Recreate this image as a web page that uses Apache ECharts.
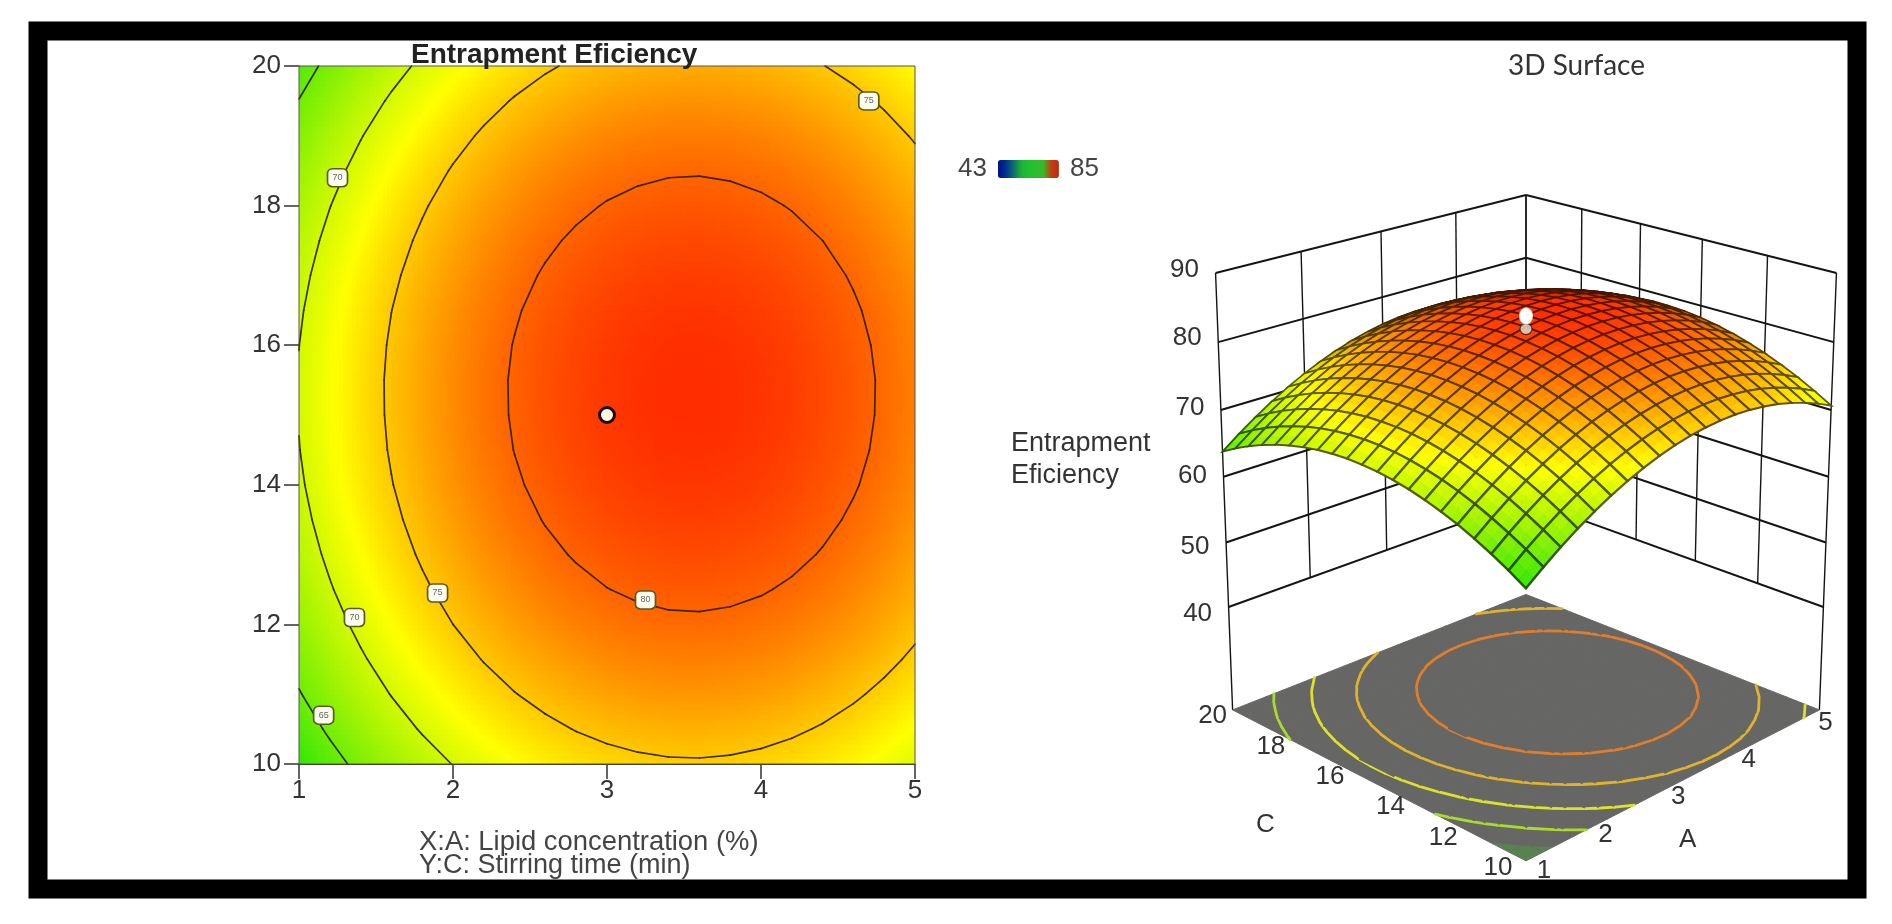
<!DOCTYPE html>
<html><head><meta charset="utf-8">
<style>html,body{margin:0;padding:0;background:#fff}#chart{width:1892px;height:924px;filter:blur(0.75px)}</style>
<script src="https://cdn.jsdelivr.net/npm/echarts@6/dist/echarts.min.js"></script>
</head><body><div id="chart"></div>
<script>
// A: lipid concentration (%), C: stirring time (min)
const lipidConcentration = [1,1.2,1.4,1.6,1.8,2,2.2,2.4,2.6,2.8,3,3.2,3.4,3.6,3.8,4,4.2,4.4,4.6,4.8,5];
const stirringTime = [10,10.5,11,11.5,12,12.5,13,13.5,14,14.5,15,15.5,16,16.5,17,17.5,18,18.5,19,19.5,20];
// Entrapment efficiency; one row per stirring time
const efficiency = [
[62.07,63.98,65.74,67.34,68.78,70.07,71.20,72.17,72.99,73.65,74.16,74.51,74.71,74.75,74.63,74.36,73.93,73.34,72.60,71.70,70.65],
[63.52,65.43,67.19,68.79,70.23,71.52,72.65,73.62,74.44,75.10,75.61,75.96,76.16,76.20,76.08,75.81,75.38,74.79,74.05,73.15,72.10],
[64.82,66.73,68.49,70.09,71.53,72.82,73.95,74.92,75.74,76.40,76.91,77.26,77.46,77.50,77.38,77.11,76.68,76.09,75.35,74.45,73.40],
[65.98,67.89,69.65,71.25,72.69,73.98,75.11,76.08,76.90,77.56,78.07,78.42,78.62,78.66,78.54,78.27,77.84,77.25,76.51,75.61,74.56],
[67.00,68.91,70.67,72.27,73.71,75.00,76.13,77.10,77.92,78.58,79.09,79.44,79.64,79.68,79.56,79.29,78.86,78.27,77.53,76.63,75.58],
[67.87,69.78,71.54,73.14,74.58,75.87,77.00,77.97,78.79,79.45,79.96,80.31,80.51,80.55,80.43,80.16,79.73,79.14,78.40,77.50,76.45],
[68.60,70.51,72.27,73.87,75.31,76.60,77.73,78.70,79.52,80.18,80.69,81.04,81.24,81.28,81.16,80.89,80.46,79.87,79.13,78.23,77.18],
[69.19,71.10,72.86,74.46,75.90,77.19,78.32,79.29,80.11,80.77,81.28,81.63,81.83,81.87,81.75,81.48,81.05,80.46,79.72,78.82,77.77],
[69.64,71.55,73.31,74.91,76.35,77.64,78.77,79.74,80.56,81.22,81.73,82.08,82.28,82.32,82.20,81.93,81.50,80.91,80.17,79.27,78.22],
[69.94,71.85,73.61,75.21,76.65,77.94,79.07,80.04,80.86,81.52,82.03,82.38,82.58,82.62,82.50,82.23,81.80,81.21,80.47,79.57,78.52],
[70.09,72.00,73.76,75.36,76.80,78.09,79.22,80.19,81.01,81.67,82.18,82.53,82.73,82.77,82.65,82.38,81.95,81.36,80.62,79.72,78.67],
[70.11,72.02,73.78,75.38,76.82,78.11,79.24,80.21,81.03,81.69,82.20,82.55,82.75,82.79,82.67,82.40,81.97,81.38,80.64,79.74,78.69],
[69.98,71.89,73.65,75.25,76.69,77.98,79.11,80.08,80.90,81.56,82.07,82.42,82.62,82.66,82.54,82.27,81.84,81.25,80.51,79.61,78.56],
[69.71,71.62,73.38,74.98,76.42,77.71,78.84,79.81,80.63,81.29,81.80,82.15,82.35,82.39,82.27,82.00,81.57,80.98,80.24,79.34,78.29],
[69.29,71.20,72.96,74.56,76.00,77.29,78.42,79.39,80.21,80.87,81.38,81.73,81.93,81.97,81.85,81.58,81.15,80.56,79.82,78.92,77.87],
[68.73,70.64,72.40,74.00,75.44,76.73,77.86,78.83,79.65,80.31,80.82,81.17,81.37,81.41,81.29,81.02,80.59,80.00,79.26,78.36,77.31],
[68.03,69.94,71.70,73.30,74.74,76.03,77.16,78.13,78.95,79.61,80.12,80.47,80.67,80.71,80.59,80.32,79.89,79.30,78.56,77.66,76.61],
[67.19,69.10,70.86,72.46,73.90,75.19,76.32,77.29,78.11,78.77,79.28,79.63,79.83,79.87,79.75,79.48,79.05,78.46,77.72,76.82,75.77],
[66.20,68.11,69.87,71.47,72.91,74.20,75.33,76.30,77.12,77.78,78.29,78.64,78.84,78.88,78.76,78.49,78.06,77.47,76.73,75.83,74.78],
[65.07,66.98,68.74,70.34,71.78,73.07,74.20,75.17,75.99,76.65,77.16,77.51,77.71,77.75,77.63,77.36,76.93,76.34,75.60,74.70,73.65],
[63.79,65.70,67.46,69.06,70.50,71.79,72.92,73.89,74.71,75.37,75.88,76.23,76.43,76.47,76.35,76.08,75.65,75.06,74.32,73.42,72.37]
];
const contourLevels = [65,70,75,80];
const floorLevels = [68.3,71.9,75.5,79.2];
const floorTintLevel = 65;
// contour labels: [A, C, level]
const contourLabels = [[1.25,18.4,70],[1.36,12.1,70],[1.9,12.45,75],[1.16,10.7,65],[3.25,12.35,80],[4.7,19.5,75]];
const designPoints2D = [[3,15]];
// 3D design point: [A, C, efficiency]: the run value and its foot on the surface
const designPoints3D = [[3,15,81.9],[3,15,83.8]];
const tickA = [1,2,3,4,5];
const tickC = [10,12,14,16,18,20];
const tickZ = [40,50,60,70,80,90];
const FLOOR_Z = 23.7;

// colour ramp (efficiency, rgb)
const ramp = [[43,[0,0,255]],[50,[0,120,160]],[60,[10,225,10]],[72.3,[255,255,0]],[85,[255,0,0]]];
function rgbOf(z){
  if(z<=ramp[0][0])return ramp[0][1].slice();
  for(let i=1;i<ramp.length;i++){
    if(z<=ramp[i][0]){
      const f=(z-ramp[i-1][0])/(ramp[i][0]-ramp[i-1][0]);
      return ramp[i-1][1].map((c,k)=>c+(ramp[i][1][k]-c)*f);
    }
  }
  return ramp[ramp.length-1][1].slice();
}
const css=(c,m,a)=>`rgba(${Math.round(c[0]*m)},${Math.round(c[1]*m)},${Math.round(c[2]*m)},${a==null?1:a})`;

// one item per mesh cell: [A0,C0,A1,C1,z00,z10,z01,z11]
const cells=[];
for(let j=0;j<stirringTime.length-1;j++)for(let i=0;i<lipidConcentration.length-1;i++){
  cells.push([lipidConcentration[i],stirringTime[j],lipidConcentration[i+1],stirringTime[j+1],
    efficiency[j][i],efficiency[j][i+1],efficiency[j+1][i],efficiency[j+1][i+1]]);
}
const meshCells=cells.slice().sort((p,q)=>((q[0]-1)/4+(q[1]-10)/10)-((p[0]-1)/4+(p[1]-10)/10));

function readCell(api){const v=[];for(let k=0;k<8;k++)v.push(api.value(k));return v;}
function bil(v,f,g){return v[4]*(1-f)*(1-g)+v[5]*f*(1-g)+v[6]*(1-f)*g+v[7]*f*g;}
// walk the cell's edges; crossings of one level as [A,C] pairs
function crossings(v,L){
  const pts=[],c=[[v[0],v[1],v[4]],[v[2],v[1],v[5]],[v[2],v[3],v[7]],[v[0],v[3],v[6]]];
  for(let e=0;e<4;e++){
    const p=c[e],q=c[(e+1)%4];
    if((p[2]>=L)!==(q[2]>=L)){const f=(L-p[2])/(q[2]-p[2]);pts.push([p[0]+(q[0]-p[0])*f,p[1]+(q[1]-p[1])*f]);}
  }
  return pts;
}
// part of the cell with value below a level
function belowLevel(v,L){
  const pts=[],c=[[v[0],v[1],v[4]],[v[2],v[1],v[5]],[v[2],v[3],v[7]],[v[0],v[3],v[6]]];
  for(let e=0;e<4;e++){
    const p=c[e],q=c[(e+1)%4];
    if(p[2]<L)pts.push([p[0],p[1]]);
    if((p[2]>=L)!==(q[2]>=L)){const f=(L-p[2])/(q[2]-p[2]);pts.push([p[0]+(q[0]-p[0])*f,p[1]+(q[1]-p[1])*f]);}
  }
  return pts;
}

// camera for the 3D panel: view-plane position of (A,C,efficiency)
function project(A,C,z){
  const u=(A-1)/4,v=(C-10)/10,t=(z-40)/50,a=u-.5,b=v-.5;
  const s=(a-b)*.7071,d=(a+b)*.7071,W=1+.191*d-.042*t;
  return [1526+420.6*s/W,(607-56*d-345.5*t-12.4*d*t)/W];
}

function heatItem(params,api){
  const v=readCell(api),n=7,kids=[];
  const p0=api.coord([v[0],v[1]]),p1=api.coord([v[2],v[3]]);
  const w=(p1[0]-p0[0])/n,h=(p0[1]-p1[1])/n;
  for(let a=0;a<n;a++)for(let b=0;b<n;b++){
    const z=bil(v,(a+.5)/n,(b+.5)/n);
    kids.push({type:'rect',shape:{x:p0[0]+a*w,y:p0[1]-(b+1)*h,width:w+(v[2]<5||a<n-1?.8:0),height:h+(b>0||v[1]>10?.8:0)},style:{fill:css(rgbOf(z),1)},silent:true});
  }
  return {type:'group',children:kids};
}
function contourItem(params,api){
  const v=readCell(api),kids=[];
  contourLevels.forEach(L=>{
    const c=crossings(v,L);
    if(c.length===2)kids.push({type:'line',shape:{x1:api.coord(c[0])[0],y1:api.coord(c[0])[1],x2:api.coord(c[1])[0],y2:api.coord(c[1])[1]},
      style:{stroke:'rgba(40,30,0,0.9)',lineWidth:1.7,lineCap:'round'}});
  });
  return {type:'group',children:kids};
}
const P=(api,A,C,z)=>api.coord(project(A,C,z));
function wallItem(params,api){
  const a=P(api,api.value(0),api.value(1),api.value(2)),b=P(api,api.value(3),api.value(4),api.value(5));
  return {type:'line',shape:{x1:a[0],y1:a[1],x2:b[0],y2:b[1]},style:{stroke:'#141414',lineWidth:api.value(6)}};
}
function floorItem(params,api){
  const v=readCell(api),kids=[];
  const q=[P(api,v[0],v[1],FLOOR_Z),P(api,v[2],v[1],FLOOR_Z),P(api,v[2],v[3],FLOOR_Z),P(api,v[0],v[3],FLOOR_Z)];
  kids.push({type:'polygon',shape:{points:q},style:{fill:'#666664',stroke:'#666664',lineWidth:1}});
  const low=belowLevel(v,floorTintLevel);
  if(low.length>2&&v[1]<13)kids.push({type:'polygon',shape:{points:low.map(p=>P(api,p[0],p[1],FLOOR_Z))},style:{fill:'rgba(70,170,50,0.42)'}});
  floorLevels.forEach(L=>{
    const c=crossings(v,L);
    if(c.length===2){
      const a=P(api,c[0][0],c[0][1],FLOOR_Z),b=P(api,c[1][0],c[1][1],FLOOR_Z);
      const col=rgbOf(L).map(x=>x*.72+150*.28);
      kids.push({type:'line',shape:{x1:a[0],y1:a[1],x2:b[0],y2:b[1]},style:{stroke:css(col,1),lineWidth:2.8,lineCap:'round'}});
    }
  });
  return {type:'group',children:kids};
}
function surfaceItem(params,api){
  const v=readCell(api),kids=[],n=2;
  const dzA=((v[5]-v[4])+(v[7]-v[6]))/2/(v[2]-v[0])*4/50*.86;
  const dzC=((v[6]-v[4])+(v[7]-v[5]))/2/(v[3]-v[1])*10/50*.86;
  const norm=Math.sqrt(dzA*dzA+dzC*dzC+1);
  const dot=(dzA*.626+dzC*.626+.465)/norm;
  const shade=Math.max(.3,Math.min(1,.05+2.3*dot));
  const pos=(f,g)=>P(api,v[0]+(v[2]-v[0])*f,v[1]+(v[3]-v[1])*g,bil(v,f,g));
  for(let a=0;a<n;a++)for(let b=0;b<n;b++){
    const f0=a/n,f1=(a+1)/n,g0=b/n,g1=(b+1)/n;
    const col=css(rgbOf(bil(v,(f0+f1)/2,(g0+g1)/2)),shade);
    kids.push({type:'polygon',shape:{points:[pos(f0,g0),pos(f1,g0),pos(f1,g1),pos(f0,g1)]},style:{fill:col,stroke:col,lineWidth:.6}});
  }
  const mid=rgbOf((v[4]+v[7])/2);
  const depth=((v[0]-1)/4+(v[1]-10)/10)/2;
  kids.push({type:'polygon',shape:{points:[pos(0,0),pos(1,0),pos(1,1),pos(0,1)]},
    style:{fill:'none',stroke:css(mid,.3*shade+.05,.95),lineWidth:2.5-1.4*depth}});
  return {type:'group',children:kids};
}
function point3DItem(params,api){
  const p=P(api,api.value(0),api.value(1),api.value(2)),top=params.dataIndex===1;
  return {type:'ellipse',shape:{cx:p[0],cy:p[1],rx:top?6.5:6,ry:top?8:5.5},
    style:{fill:top?'#ffffff':'rgba(225,215,205,0.85)',stroke:top?'rgba(255,255,255,0.6)':'rgba(30,20,10,0.75)',lineWidth:1.2}};
}
function labelItem(params,api){
  const p=P(api,api.value(0),api.value(1),api.value(2));
  return {type:'text',x:p[0]+api.value(3),y:p[1]+api.value(4),
    style:{text:String(api.value(5)),fill:'#333',font:'26px "Liberation Sans", Arial, sans-serif',align:'center',verticalAlign:'middle'}};
}

// wall grid: [A0,C0,z0,A1,C1,z1,lineWidth]
const wallLines=[];
tickZ.forEach(z=>{wallLines.push([1,20,z,5,20,z,2]);wallLines.push([5,20,z,5,10,z,2]);});
tickA.forEach(a=>{wallLines.push([a,20,40,a,20,90,1.4]);});
tickC.forEach(c=>{wallLines.push([5,c,40,5,c,90,1.4]);});
wallLines.push([1,20,FLOOR_Z,1,20,40,1.4]);wallLines.push([5,10,FLOOR_Z,5,10,40,1.4]);
// label nudges, per tick
const zLabelDy={90:-3,80:-4,70:-2,60:-1,50:4,40:7};
const cLabelDx={10:-28,12:-17,14:-8,16:-10,18:-14,20:-20};
const cLabelDy={10:7,12:11,14:12,16:12,18:10,20:6};
const aLabelDx={1:18,2:-2,3:-5,4:-5,5:6};
const aLabelDy={1:10,2:16,3:17,4:16,5:13};
// labels of the 3D axes: [A,C,z,dx,dy,text]
const axisLabels3D=[];
tickZ.forEach(z=>axisLabels3D.push([1,20,z,-31,zLabelDy[z],z]));
tickC.forEach(c=>axisLabels3D.push([1,c,FLOOR_Z,cLabelDx[c],cLabelDy[c],c]));
tickA.forEach(a=>axisLabels3D.push([a,10,FLOOR_Z,aLabelDx[a],aLabelDy[a],a]));

const txt='"Liberation Sans", Arial, sans-serif';
const gt=(x,y,t,size,extra)=>({type:'text',x:x,y:y,z:50,style:Object.assign({text:t,fill:'#333',font:size+'px '+txt,align:'left',verticalAlign:'middle'},extra||{})});

const chart=echarts.init(document.getElementById('chart'),null,{renderer:'canvas'});
chart.setOption({
  animation:false,
  backgroundColor:'#fff',
  grid:[
    {left:299,top:66,width:616,height:698,show:true,backgroundColor:'transparent',borderColor:'#555',borderWidth:1,containLabel:false,z:5},
    {left:0,top:0,width:1892,height:924,show:false}
  ],
  xAxis:[
    {type:'value',gridIndex:0,min:1,max:5,interval:1,splitLine:{show:false},
     axisLine:{lineStyle:{color:'#333'}},axisTick:{length:15,lineStyle:{color:'#333',width:1.5}},
     axisLabel:{margin:14,color:'#333',fontSize:26,fontFamily:txt}},
    {type:'value',gridIndex:1,min:0,max:1892,show:false,splitLine:{show:false}}
  ],
  yAxis:[
    {type:'value',gridIndex:0,min:10,max:20,interval:2,splitLine:{show:false},
     axisLine:{lineStyle:{color:'#333'}},axisTick:{length:15,lineStyle:{color:'#333',width:1.5}},
     axisLabel:{margin:18,color:'#333',fontSize:26,fontFamily:txt}},
    {type:'value',gridIndex:1,min:0,max:924,inverse:true,show:false,splitLine:{show:false}}
  ],
  visualMap:{type:'continuous',min:43,max:85,orient:'horizontal',left:943,top:141,itemWidth:18,itemHeight:61,
    text:['85','43'],textGap:11,calculable:false,seriesIndex:0,dimension:4,
    textStyle:{color:'#444',fontSize:26,fontFamily:txt},
    inRange:{color:['#00107f','#003090','#106a70','#18b038','#20c030','#30bc30','#38b828','#c83a10','#b82c10']}},
  graphic:[
    gt(411,55,'Entrapment Eficiency',28,{font:'bold 28px '+txt,fill:'#222'}),
    gt(419,842,'X:A: Lipid concentration (%)',27.4,{fill:'#444'}),
    gt(419,866,'Y:C: Stirring time (min)',27,{fill:'#444'}),
    gt(1508,66,'3D Surface',28,{font:'28px Lato, sans-serif'}),
    gt(1011,444,'Entrapment',27),
    gt(1011,476,'Eficiency',27),
    gt(1256,825,'C',26),
    gt(1679,840,'A',26),
    {type:'rect',z:100,silent:true,shape:{x:38,y:31,width:1819,height:858},style:{fill:'none',stroke:'#000',lineWidth:19}}
  ],
  series:[
    {type:'custom',name:'Entrapment efficiency',coordinateSystem:'cartesian2d',xAxisIndex:0,yAxisIndex:0,z:1,silent:true,
     data:cells,dimensions:['A0','C0','A1','C1','z00','z10','z01','z11'],encode:{x:[0,2],y:[1,3]},renderItem:heatItem,progressive:0,clip:true},
    {type:'custom',name:'Contours',coordinateSystem:'cartesian2d',xAxisIndex:0,yAxisIndex:0,z:3,silent:true,
     data:cells,encode:{x:[0,2],y:[1,3]},renderItem:contourItem,progressive:0},
    {type:'scatter',name:'Contour labels',xAxisIndex:0,yAxisIndex:0,z:4,silent:true,data:contourLabels,
     symbol:'roundRect',symbolSize:[20,18],itemStyle:{color:'#fbfbee',borderColor:'#5a5a20',borderWidth:1.6,opacity:1},
     label:{show:true,position:'inside',formatter:p=>p.value[2],color:'#666',fontSize:9,fontFamily:txt}},
    {type:'scatter',name:'Design point',xAxisIndex:0,yAxisIndex:0,z:4,silent:true,data:designPoints2D,
     symbol:'circle',symbolSize:15,itemStyle:{color:'#fff6e8',borderColor:'#1a0a00',borderWidth:3,opacity:1}},
    {type:'custom',name:'Walls',coordinateSystem:'cartesian2d',xAxisIndex:1,yAxisIndex:1,z:2,silent:true,
     data:wallLines,renderItem:wallItem,progressive:0,encode:{x:0,y:1},clip:false},
    {type:'custom',name:'Floor',coordinateSystem:'cartesian2d',xAxisIndex:1,yAxisIndex:1,z:3,silent:true,
     data:cells,renderItem:floorItem,progressive:0,encode:{x:0,y:1},clip:false},
    {type:'custom',name:'Surface',coordinateSystem:'cartesian2d',xAxisIndex:1,yAxisIndex:1,z:4,silent:true,
     data:meshCells,renderItem:surfaceItem,progressive:0,encode:{x:0,y:1},clip:false},
    {type:'custom',name:'3D design point',coordinateSystem:'cartesian2d',xAxisIndex:1,yAxisIndex:1,z:5,silent:true,
     data:designPoints3D,renderItem:point3DItem,progressive:0,encode:{x:0,y:1},clip:false},
    {type:'custom',name:'3D axis labels',coordinateSystem:'cartesian2d',xAxisIndex:1,yAxisIndex:1,z:5,silent:true,
     data:axisLabels3D,renderItem:labelItem,progressive:0,encode:{x:0,y:1},clip:false}
  ]
});
</script></body></html>
